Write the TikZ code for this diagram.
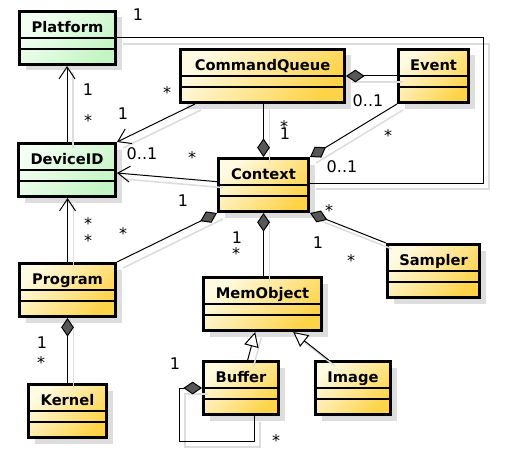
\documentclass[tikz,border=0pt]{standalone}
\usepackage{fontspec}
\setmainfont{DejaVu Sans}
\usetikzlibrary{arrows.meta,shadows,calc}

\definecolor{classgold}{HTML}{FFD347}
\definecolor{classlight}{HTML}{FFFAE2}
\definecolor{idgreen}{HTML}{C4F5C4}
\definecolor{idlight}{HTML}{F4FFF4}
\definecolor{shadowgray}{HTML}{DDDDDD}
\definecolor{diamondgray}{HTML}{575757}

\begin{document}
\begin{tikzpicture}[
    x=0.75pt, y=-0.75pt,
    classbox/.style={draw, line width=2.25pt, minimum height=39.75pt, inner sep=0pt,
        text height=15.4pt, text depth=24.35pt, font=\bfseries\fontsize{11}{13}\selectfont,
        top color=classlight, bottom color=classgold, shading angle=45,
        general shadow={fill=shadowgray, shadow xshift=4.5pt, shadow yshift=-4.5pt}},
    idbox/.style={classbox, top color=idlight, bottom color=idgreen, shading angle=45},
    divider/.style={line width=0.9pt},
    shadowline/.style={preaction={draw=shadowgray, line width=1.2pt, arrows=-,
        transform canvas={shift={(4.5pt,-4.5pt)}}}},
    assoc/.style={shadowline, line width=0.75pt, -{Straight Barb[length=9pt, width=12pt]}},
    plain/.style={shadowline, line width=0.75pt},
    compo/.style={shadowline, line width=0.75pt, {Diamond[length=14pt, width=9.5pt, fill=diamondgray]}-},
    inherit/.style={shadowline, line width=0.75pt, -{Triangle[open, length=11pt, width=11pt, fill=white]}},
    mult/.style={font=\fontsize{12}{14}\selectfont, inner sep=0pt, anchor=base}
]
    \useasboundingbox (0,0) rectangle (505,456);

    % classes
    \node[idbox, minimum width=72pt] (platform) at (67.5, 38) {Platform};
    \node[idbox, minimum width=72.75pt] (deviceid) at (67, 170) {DeviceID};
    \node[classbox, minimum width=123pt] (cmdqueue) at (262.5, 76) {CommandQueue};
    \node[classbox, minimum width=52.5pt] (event) at (433.5, 76) {Event};
    \node[classbox, minimum width=67.5pt] (context) at (263.5, 185) {Context};
    \node[classbox, minimum width=72pt] (program) at (67.5, 290) {Program};
    \node[classbox, minimum width=58.5pt] (kernel) at (67.5, 411) {Kernel};
    \node[classbox, minimum width=88.5pt] (memobject) at (262.5, 304) {MemObject};
    \node[classbox, minimum width=56.25pt] (buffer) at (241, 388) {Buffer};
    \node[classbox, minimum width=56.25pt] (image) at (353, 388) {Image};
    \node[classbox, minimum width=69pt] (sampler) at (433.5, 271) {Sampler};

    % compartments
    \foreach \n in {platform,deviceid,cmdqueue,event,context,program,kernel,memobject,buffer,image,sampler} {
        \draw[divider] ([yshift=-21pt]\n.north west) -- ([yshift=-21pt]\n.north east);
        \draw[divider] ([yshift=-29.25pt]\n.north west) -- ([yshift=-29.25pt]\n.north east);
    }

    \coordinate (loopx) at (483, 0);
    \coordinate (selfloop) at (179, 441);

    % associations
    \draw[assoc] (deviceid.north) -- (deviceid.north |- platform.south);
    \draw[assoc] ([xshift=12pt]cmdqueue.south west) -- (deviceid.north east);
    \draw[assoc] ([yshift=2.5pt]context.west) -- ([yshift=-2.25pt]deviceid.east);
    \draw[assoc] (program.north) -- (program.north |- deviceid.south);
    \draw[plain] (platform.east) -- (platform.east -| loopx) |- ([yshift=1.5pt]context.east);

    % compositions
    \draw[compo] (context.south west) -- (program.north east);
    \draw[compo] (context.north) -- (context.north |- cmdqueue.south);
    \draw[compo] (cmdqueue.east) -- (event.west);
    \draw[compo] (context.north east) -- (event.south west);
    \draw[compo] (context.south) -- (context.south |- memobject.north);
    \draw[compo] (context.south east) -- (sampler.north west);
    \draw[compo] (program.south) -- (program.south |- kernel.north);
    \draw[compo] (buffer.west) -| (selfloop) -| ([xshift=9.75pt]buffer.south);

    % generalizations
    \draw[inherit] ([xshift=5pt]buffer.north) -- ([xshift=-5.5pt]memobject.south);
    \draw[inherit] ([xshift=11pt]image.north west) -- ([xshift=23pt]memobject.south);

    % multiplicities
    \node[mult] (m1) at (88, 96) {1};
    \node[mult] (m2) at (88, 126.5) {*};
    \node[mult] (m3) at (123, 119) {1};
    \node[mult] (m4) at (167, 98.5) {*};
    \node[mult] (m5) at (142, 159) {0..1};
    \node[mult] (m6) at (192, 163.5) {*};
    \node[mult] (m7) at (88, 229.5) {*};
    \node[mult] (m8) at (88, 246.5) {*};
    \node[mult] (m9) at (183, 206) {1};
    \node[mult] (m10) at (123, 239.5) {*};
    \node[mult] (m11) at (284, 132.5) {*};
    \node[mult] (m12) at (285, 139) {1};
    \node[mult] (m13) at (368, 106) {0..1};
    \node[mult] (m14) at (388, 141.5) {*};
    \node[mult] (m15) at (342, 172) {0..1};
    \node[mult] (m16) at (138, 21) {1};
    \node[mult] (m17) at (237, 243) {1};
    \node[mult] (m18) at (236, 259.5) {*};
    \node[mult] (m19) at (329, 216.5) {*};
    \node[mult] (m20) at (318, 248) {1};
    \node[mult] (m21) at (351, 266.5) {*};
    \node[mult] (m22) at (42, 348) {1};
    \node[mult] (m23) at (41, 368.5) {*};
    \node[mult] (m24) at (175, 369) {1};
    \node[mult] (m25) at (276, 446.5) {*};
\end{tikzpicture}
\end{document}
